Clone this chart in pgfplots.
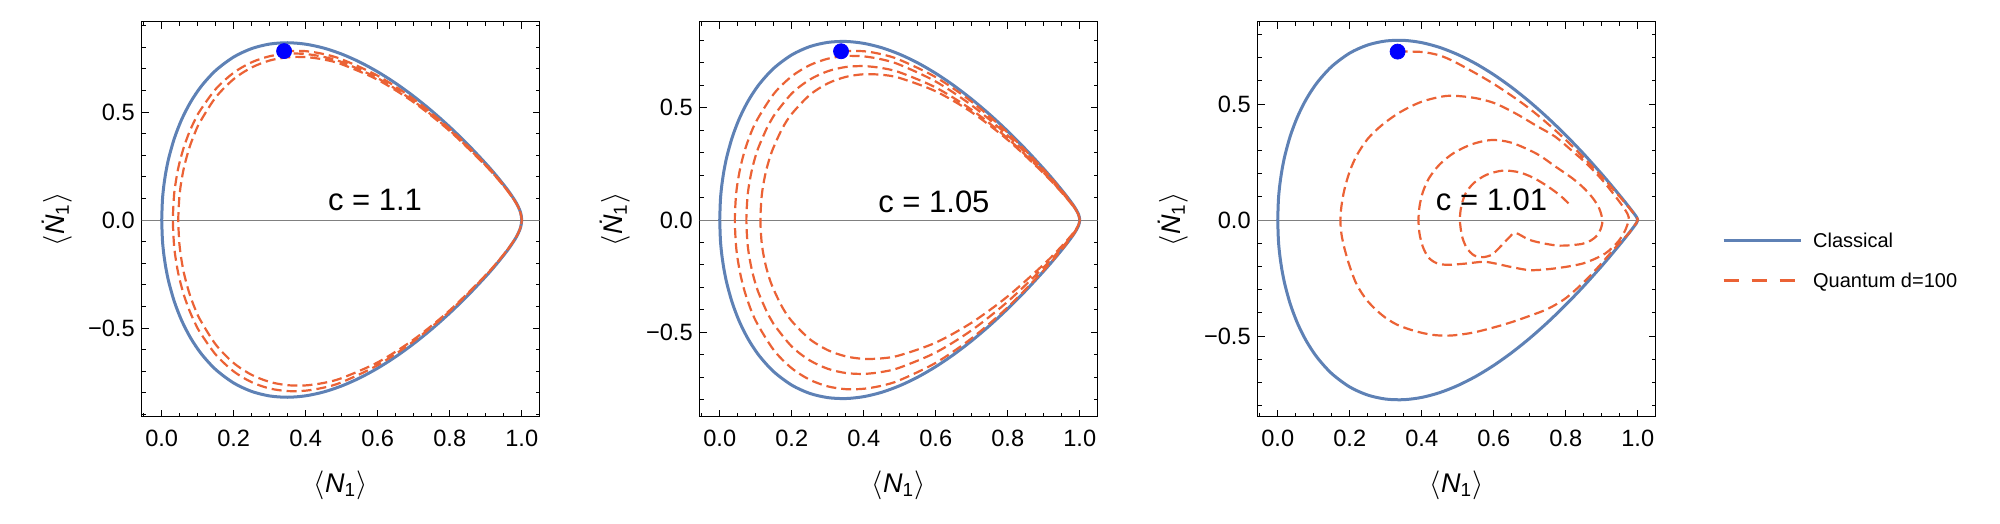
\documentclass[border=0pt]{standalone}
\usepackage{fontspec}
\setmainfont{Liberation Sans}
\usepackage{pgfplots}
\pgfplotsset{compat=1.18}
\definecolor{mblue}{rgb}{0.368417,0.506779,0.709798}
\definecolor{morange}{rgb}{0.922526,0.385626,0.209179}
\definecolor{zgray}{rgb}{0.5,0.5,0.5}
\pgfplotsset{
  myax/.style={
    scale only axis, width=198.9pt, height=197.65pt, anchor=south west,
    xmin=-0.0556, xmax=1.0494,
    axis line style={line width=0.5pt, black},
    tick style={black, line width=0.45pt},
    major tick length=3.5pt, minor tick length=2pt,
    xtick={0,0.2,0.4,0.6,0.8,1}, xticklabels={0.0,0.2,0.4,0.6,0.8,1.0},
    minor xtick={-0.05,0.05,0.1,0.15,0.25,0.3,0.35,0.45,0.5,0.55,0.65,0.7,0.75,0.85,0.9,0.95},
    ytick={-0.5,0,0.5}, yticklabels={−0.5,0.0,0.5},
    minor ytick={-0.9,-0.8,-0.7,-0.6,-0.4,-0.3,-0.2,-0.1,0.1,0.2,0.3,0.4,0.6,0.7,0.8,0.9},
    tick label style={font=\fontsize{11.8pt}{13pt}\selectfont},
    xticklabel style={yshift=-2.8pt},
    label style={font=\fontsize{13.5pt}{16pt}\selectfont},
    xlabel={$\langle$\textit{N}\textsubscript{1}$\rangle$},
    ylabel={$\langle$\textit{\.{N}}\textsubscript{1}$\rangle$},
    xlabel style={at={(axis description cs:0.5,-0.172)}, anchor=center},
    ylabel style={at={(axis description cs:-0.213,0.5)}, anchor=center},
  },
  clas/.style={mblue, line width=1.5pt, smooth, line join=round},
  quan/.style={morange, line width=1.1pt, smooth, dash pattern=on 5pt off 2.5pt},
  zl/.style={zgray, line width=0.5pt},
  dot/.style={only marks, mark=*, mark size=3.75pt, color=blue, mark options={draw=blue, fill=blue}},
}
\begin{document}
\begin{tikzpicture}
\useasboundingbox (0,0) rectangle (1000pt,262pt);
% ---------------- panel 1 ----------------
\begin{axis}[myax, at={(70.85pt,53.5pt)}, ymin=-0.912, ymax=0.918]
\addplot[zl] coordinates {(-0.1,0) (1.1,0)};
\addplot[clas] coordinates {(0,0) (0.002,0.0932) (0.006,0.1608) (0.012,0.2261) (0.02,0.2896) (0.035,0.3775) (0.055,0.4639) (0.08,0.5453) (0.11,0.6195) (0.15,0.6924) (0.2,0.7547) (0.25,0.7937) (0.3,0.8146) (0.35,0.8206) (0.4,0.8139) (0.45,0.7960) (0.5,0.7681) (0.55,0.7312) (0.6,0.6859) (0.65,0.6328) (0.7,0.5724) (0.75,0.5050) (0.8,0.4308) (0.85,0.3499) (0.9,0.2615) (0.93,0.2041) (0.96,0.1413) (0.98,0.0929) (0.99,0.0629) (0.997,0.0334) (1,0) (0.997,-0.0334) (0.99,-0.0629) (0.98,-0.0929) (0.96,-0.1413) (0.93,-0.2041) (0.9,-0.2615) (0.85,-0.3499) (0.8,-0.4308) (0.75,-0.5050) (0.7,-0.5724) (0.65,-0.6328) (0.6,-0.6859) (0.55,-0.7312) (0.5,-0.7681) (0.45,-0.7960) (0.4,-0.8139) (0.35,-0.8206) (0.3,-0.8146) (0.25,-0.7937) (0.2,-0.7547) (0.15,-0.6924) (0.11,-0.6195) (0.08,-0.5453) (0.055,-0.4639) (0.035,-0.3775) (0.02,-0.2896) (0.012,-0.2261) (0.006,-0.1608) (0.002,-0.0932) (0,0)};
\addplot[quan] coordinates {(0.34,0.7822) (0.4,0.7817) (0.45,0.7681) (0.5,0.7439) (0.6,0.6679) (0.7,0.5596) (0.8,0.4224) (0.9,0.2570) (0.95,0.1604) (0.98,0.0914) (0.995,0.0428) (1,0)
(0.995,-0.0428) (0.98,-0.0914) (0.95,-0.1604) (0.9,-0.2570) (0.8,-0.4224) (0.7,-0.5610) (0.6,-0.6720) (0.5,-0.7510) (0.45,-0.7760) (0.4,-0.7900) (0.35,-0.7920) (0.3,-0.7800) (0.25,-0.7510) (0.2,-0.7010) (0.15,-0.6230) (0.106,-0.5190) (0.091,-0.4715) (0.076,-0.4150) (0.061,-0.3440) (0.049,-0.2700) (0.043,-0.2215) (0.037,-0.158) (0.034,-0.1118) (0.031,0)
(0.034,0.1087) (0.037,0.1533) (0.043,0.2156) (0.049,0.2625) (0.061,0.3347) (0.076,0.4037) (0.091,0.4589) (0.106,0.5050) (0.15,0.6062) (0.2,0.6820) (0.25,0.7303) (0.3,0.7583) (0.35,0.7701) (0.4,0.7684) (0.45,0.7550) (0.5,0.7313) (0.6,0.6565) (0.7,0.5501) (0.8,0.4152) (0.9,0.2526) (0.95,0.1577) (0.98,0.0898) (0.995,0.0421) (1,0)
(0.995,-0.0425) (0.98,-0.0907) (0.95,-0.1591) (0.9,-0.2548) (0.8,-0.4183) (0.7,-0.5532) (0.6,-0.6590) (0.5,-0.7319) (0.45,-0.7542) (0.4,-0.7657) (0.35,-0.7648) (0.3,-0.7496) (0.25,-0.7170) (0.2,-0.6623) (0.15,-0.5765) (0.106,-0.4595) (0.091,-0.4043) (0.076,-0.3353) (0.061,-0.2408) (0.052,-0.1537) (0.049,-0.1090) (0.046,0)
(0.049,0.1074) (0.052,0.1514) (0.061,0.2372) (0.076,0.3303) (0.091,0.3982) (0.106,0.4526) (0.15,0.5678) (0.2,0.6524) (0.25,0.7062) (0.3,0.7384) (0.35,0.7533) (0.4,0.7542) (0.45,0.7429) (0.5,0.7209) (0.6,0.6491) (0.7,0.5449) (0.8,0.4120) (0.9,0.2510) (0.95,0.1567) (0.98,0.0893) (0.995,0.0419) (1,0)};
\addplot[dot] coordinates {(0.34,0.782)};
\node[font=\fontsize{15.5pt}{18pt}\selectfont] at (axis cs:0.5925,0.0926) {c = 1.1};
\end{axis}
% ---------------- panel 2 ----------------
\begin{axis}[myax, at={(349.85pt,53.5pt)}, ymin=-0.8767, ymax=0.8825]
\addplot[zl] coordinates {(-0.1,0) (1.1,0)};
\addplot[clas] coordinates {(0,0) (0.002,0.0912) (0.006,0.1573) (0.012,0.2212) (0.02,0.2833) (0.035,0.3692) (0.055,0.4534) (0.08,0.5327) (0.11,0.6047) (0.15,0.6751) (0.2,0.7348) (0.25,0.7716) (0.3,0.7904) (0.35,0.7946) (0.4,0.7861) (0.45,0.7667) (0.5,0.7374) (0.55,0.6992) (0.6,0.6527) (0.65,0.5986) (0.7,0.5374) (0.75,0.4694) (0.8,0.3950) (0.85,0.3143) (0.9,0.2275) (0.93,0.1721) (0.96,0.1134) (0.98,0.0707) (0.99,0.0461) (0.997,0.0236) (1,0) (0.997,-0.0236) (0.99,-0.0461) (0.98,-0.0707) (0.96,-0.1134) (0.93,-0.1721) (0.9,-0.2275) (0.85,-0.3143) (0.8,-0.3950) (0.75,-0.4694) (0.7,-0.5374) (0.65,-0.5986) (0.6,-0.6527) (0.55,-0.6992) (0.5,-0.7374) (0.45,-0.7667) (0.4,-0.7861) (0.35,-0.7946) (0.3,-0.7904) (0.25,-0.7716) (0.2,-0.7348) (0.15,-0.6751) (0.11,-0.6047) (0.08,-0.5327) (0.055,-0.4534) (0.035,-0.3692) (0.02,-0.2833) (0.012,-0.2212) (0.006,-0.1573) (0.002,-0.0912) (0,0)};
\addplot[quan] coordinates {(0.337,0.751) (0.4,0.7511) (0.45,0.7374) (0.5,0.7128) (0.6,0.6357) (0.7,0.5262) (0.8,0.3883) (0.9,0.2243) (0.95,0.1318) (0.98,0.0699) (0.995,0.0308) (1,0)
(0.995,-0.0308) (0.98,-0.0699) (0.95,-0.1318) (0.9,-0.2243) (0.8,-0.3883) (0.7,-0.5262) (0.6,-0.6357) (0.5,-0.7128) (0.45,-0.7374) (0.4,-0.7511) (0.35,-0.7528) (0.3,-0.7403) (0.25,-0.7108) (0.2,-0.6597) (0.15,-0.5786) (0.1,-0.4484) (0.074,-0.3424) (0.059,-0.2535) (0.05,-0.1755) (0.045,-0.1081) (0.042,0)
(0.045,0.1048) (0.05,0.1701) (0.059,0.2457) (0.074,0.3319) (0.1,0.4346) (0.15,0.5609) (0.2,0.6394) (0.25,0.6890) (0.3,0.7176) (0.35,0.7297) (0.4,0.7281) (0.45,0.7148) (0.5,0.6910) (0.6,0.6162) (0.7,0.5101) (0.8,0.3764) (0.9,0.2174) (0.95,0.1278) (0.98,0.0677) (0.995,0.0299) (1,0)
(0.995,-0.0289) (0.98,-0.0656) (0.95,-0.1237) (0.9,-0.2103) (0.8,-0.3631) (0.7,-0.4904) (0.6,-0.5897) (0.5,-0.6569) (0.45,-0.6763) (0.4,-0.6849) (0.35,-0.6809) (0.3,-0.6620) (0.25,-0.6247) (0.2,-0.5629) (0.15,-0.4637) (0.134,-0.4196) (0.106,-0.3161) (0.091,-0.2342) (0.082,-0.1622) (0.077,-0.0999) (0.074,0)
(0.077,0.0999) (0.082,0.1622) (0.091,0.2342) (0.106,0.3161) (0.134,0.4196) (0.15,0.4637) (0.2,0.5629) (0.25,0.6247) (0.3,0.6620) (0.35,0.6809) (0.4,0.6849) (0.45,0.6763) (0.5,0.6569) (0.6,0.5897) (0.7,0.4904) (0.8,0.3631) (0.9,0.2103) (0.95,0.1237) (0.98,0.0656) (0.995,0.0289) (1,0)
(0.995,-0.0272) (0.98,-0.0617) (0.95,-0.1163) (0.9,-0.1974) (0.8,-0.3397) (0.7,-0.4567) (0.6,-0.5457) (0.5,-0.6021) (0.45,-0.6157) (0.4,-0.6180) (0.35,-0.6067) (0.3,-0.5791) (0.25,-0.5301) (0.2,-0.4498) (0.173,-0.3858) (0.145,-0.2910) (0.13,-0.2158) (0.121,-0.1495) (0.116,-0.0921) (0.113,0)
(0.116,0.0966) (0.121,0.1569) (0.13,0.2265) (0.145,0.3054) (0.173,0.4049) (0.2,0.4721) (0.25,0.5563) (0.3,0.6078) (0.35,0.6368) (0.4,0.6486) (0.45,0.6462) (0.5,0.6319) (0.6,0.5727) (0.7,0.4793) (0.8,0.3565) (0.9,0.2072) (0.95,0.1221) (0.98,0.0648) (0.995,0.0286) (1,0)};
\addplot[dot] coordinates {(0.337,0.751)};
\node[font=\fontsize{15.5pt}{18pt}\selectfont] at (axis cs:0.595,0.081) {c = 1.05};
\end{axis}
% ---------------- panel 3 ----------------
\begin{axis}[myax, at={(628.85pt,53.5pt)}, ymin=-0.849, ymax=0.855,
  legend style={at={(axis description cs:1.1665,0.397)}, anchor=west, draw=none, fill=none,
    inner sep=0pt, font=\fontsize{10pt}{12pt}\selectfont, row sep=12.7pt,
    nodes={inner sep=0pt, text height=7.3pt, text depth=0pt},
    /tikz/every odd column/.append style={column sep=5.5pt}},
  legend cell align=left,
  legend image code/.code={\draw[#1] (0pt,0pt) -- (38.5pt,0pt);}]
\addlegendimage{mblue, line width=1.5pt}
\addlegendentry{Classical}
\addlegendimage{morange, line width=1.5pt, dash pattern=on 7.5pt off 6.5pt}
\addlegendentry{Quantum d=100}
\addplot[zl, forget plot] coordinates {(-0.1,0) (1.1,0)};
\addplot[clas, forget plot] coordinates {(0,0) (0.002,0.0897) (0.006,0.1547) (0.012,0.2174) (0.02,0.2785) (0.035,0.3628) (0.055,0.4454) (0.08,0.5230) (0.11,0.5933) (0.15,0.6619) (0.2,0.7196) (0.25,0.7545) (0.3,0.7717) (0.35,0.7744) (0.4,0.7646) (0.45,0.7439) (0.5,0.7134) (0.55,0.6741) (0.6,0.6266) (0.65,0.5716) (0.7,0.5095) (0.75,0.4407) (0.8,0.3657) (0.85,0.2848) (0.9,0.1981) (0.93,0.1434) (0.96,0.0868) (0.98,0.0477) (0.99,0.0274) (0.997,0.0120) (1,0) (0.997,-0.0120) (0.99,-0.0274) (0.98,-0.0477) (0.96,-0.0868) (0.93,-0.1434) (0.9,-0.1981) (0.85,-0.2848) (0.8,-0.3657) (0.75,-0.4407) (0.7,-0.5095) (0.65,-0.5716) (0.6,-0.6266) (0.55,-0.6741) (0.5,-0.7134) (0.45,-0.7439) (0.4,-0.7646) (0.35,-0.7744) (0.3,-0.7717) (0.25,-0.7545) (0.2,-0.7196) (0.15,-0.6619) (0.11,-0.5933) (0.08,-0.5230) (0.055,-0.4454) (0.035,-0.3628) (0.02,-0.2785) (0.012,-0.2174) (0.006,-0.1547) (0.002,-0.0897) (0,0)};
\addplot[quan, forget plot] coordinates {(0.333,0.726) (0.4,0.7244) (0.45,0.7092) (0.5,0.675) (0.6,0.5867) (0.7,0.4795) (0.8,0.3455) (0.9,0.1877) (0.95,0.1005) (0.98,0.0453) (0.995,0.0158) (1.0,0)
(0.99,-0.026) (0.975,-0.058) (0.95,-0.098) (0.92,-0.15) (0.89,-0.203) (0.85,-0.268) (0.80,-0.337) (0.75,-0.383) (0.70,-0.413) (0.65,-0.44) (0.60,-0.463) (0.54,-0.486) (0.48,-0.498) (0.43,-0.495) (0.38,-0.478) (0.33,-0.45) (0.29,-0.41) (0.25,-0.35) (0.22,-0.28) (0.20,-0.20) (0.185,-0.12) (0.177,-0.06) (0.174,0)
(0.177,0.06) (0.185,0.13) (0.20,0.21) (0.22,0.28) (0.25,0.35) (0.29,0.41) (0.34,0.465) (0.40,0.51) (0.47,0.535) (0.54,0.528) (0.60,0.505) (0.66,0.46) (0.72,0.405) (0.77,0.36) (0.82,0.295) (0.86,0.24) (0.90,0.175) (0.935,0.108) (0.958,0.06) (0.972,0.025) (0.975,0)
(0.965,-0.045) (0.949,-0.086) (0.93,-0.118) (0.91,-0.144) (0.88,-0.168) (0.846,-0.188) (0.80,-0.202) (0.75,-0.212) (0.70,-0.216) (0.65,-0.203) (0.60,-0.186) (0.57,-0.18) (0.52,-0.188) (0.47,-0.193) (0.44,-0.185) (0.418,-0.16) (0.403,-0.115) (0.394,-0.06) (0.391,0)
(0.394,0.06) (0.403,0.12) (0.42,0.18) (0.45,0.24) (0.49,0.29) (0.54,0.327) (0.594,0.345) (0.65,0.333) (0.72,0.285) (0.77,0.232) (0.82,0.178) (0.85,0.138) (0.875,0.095) (0.893,0.05) (0.902,0)
(0.898,-0.035) (0.888,-0.065) (0.87,-0.088) (0.845,-0.103) (0.80,-0.11) (0.771,-0.109) (0.73,-0.098) (0.697,-0.084) (0.66,-0.055) (0.645,-0.072) (0.631,-0.094) (0.612,-0.125) (0.594,-0.150) (0.57,-0.16) (0.545,-0.152) (0.525,-0.12) (0.512,-0.07) (0.506,0)
(0.51,0.06) (0.522,0.115) (0.545,0.16) (0.58,0.195) (0.625,0.213) (0.67,0.206) (0.71,0.182) (0.75,0.145) (0.785,0.105) (0.81,0.068)};
\addplot[dot, forget plot] coordinates {(0.333,0.726)};
\node[font=\fontsize{15.5pt}{18pt}\selectfont] at (axis cs:0.594,0.086) {c = 1.01};
\end{axis}
\end{tikzpicture}
\end{document}
